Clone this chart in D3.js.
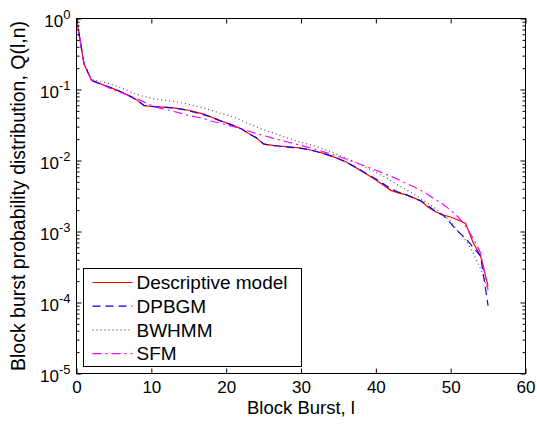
<!DOCTYPE html>
<html>
<meta charset="utf-8">
<style>
    body { margin: 0; background: #fff; }
    text { font-family: 'Liberation Sans', Arial, sans-serif; fill: #000; }
</style>
<body>
<svg id="chart" width="537" height="425"></svg>
<script src="https://d3js.org/d3.v7.min.js"></script>
<script>
// block burst length l
const burstLength = [0, 1, 2, 3, 4, 5, 6, 7, 8, 9, 10, 11, 12, 13, 14, 15, 16, 17, 18, 19,
    20, 21, 22, 23, 24, 25, 26, 27, 28, 29, 30, 31, 32, 33, 34, 35, 36, 37, 38, 39,
    40, 41, 42, 43, 44, 45, 46, 47, 48, 49, 50, 51, 52, 53, 54, 55];

const descriptive = [1, 0.23, 0.135, 0.122, 0.112, 0.102, 0.092, 0.082, 0.072, 0.059,
    0.058, 0.057, 0.056, 0.055, 0.053, 0.051, 0.048, 0.045, 0.041, 0.037,
    0.034, 0.031, 0.028, 0.024, 0.021, 0.017, 0.0165, 0.016, 0.0157, 0.0153,
    0.015, 0.0143, 0.0135, 0.0126, 0.0116, 0.0106, 0.0096, 0.0083, 0.0072, 0.0062,
    0.0053, 0.0045, 0.0038, 0.0035, 0.0033, 0.003, 0.0027, 0.0022, 0.0019, 0.0017,
    0.0016, 0.00145, 0.0013, 0.0007, 0.00045, 0.00017];

const dpbgm = [1, 0.23, 0.135, 0.122, 0.112, 0.102, 0.092, 0.082, 0.072, 0.06,
    0.058, 0.057, 0.056, 0.055, 0.053, 0.05, 0.047, 0.044, 0.041, 0.037,
    0.034, 0.031, 0.028, 0.024, 0.021, 0.0172, 0.0163, 0.016, 0.0156, 0.0152,
    0.0148, 0.0142, 0.0134, 0.0125, 0.0116, 0.0106, 0.0095, 0.0084, 0.0073, 0.0063,
    0.0055, 0.0047, 0.004, 0.0036, 0.0033, 0.003, 0.0027, 0.0023, 0.0019, 0.0017,
    0.0013, 0.001, 0.0008, 0.0006, 0.00045, 0.00009];

const bwhmm = [1, 0.23, 0.14, 0.13, 0.125, 0.115, 0.105, 0.095, 0.086, 0.08,
    0.075, 0.072, 0.07, 0.068, 0.065, 0.062, 0.058, 0.055, 0.051, 0.047,
    0.044, 0.041, 0.037, 0.033, 0.03, 0.027, 0.025, 0.023, 0.021, 0.0195,
    0.018, 0.017, 0.0158, 0.0145, 0.0133, 0.012, 0.0108, 0.0097, 0.0087, 0.0077,
    0.0068, 0.006, 0.0052, 0.0045, 0.0039, 0.0034, 0.0029, 0.0025, 0.0021, 0.0017,
    0.0014, 0.001, 0.00075, 0.0005, 0.0003, 0.00015];

const sfm = [1, 0.23, 0.135, 0.125, 0.11, 0.098, 0.09, 0.082, 0.075, 0.067,
    0.06, 0.055, 0.052, 0.049, 0.046, 0.043, 0.041, 0.039, 0.036, 0.034,
    0.032, 0.03, 0.028, 0.026, 0.024, 0.0225, 0.021, 0.0197, 0.0185, 0.0174,
    0.0163, 0.0153, 0.0143, 0.0133, 0.0123, 0.0114, 0.0105, 0.0096, 0.0088, 0.008,
    0.0073, 0.0066, 0.006, 0.0054, 0.0048, 0.0043, 0.0038, 0.0033, 0.0028, 0.0024,
    0.002, 0.0016, 0.0012, 0.0008, 0.0005, 0.00015];

const seriesNames = ["Descriptive model", "DPBGM", "BWHMM", "SFM"];
const xTicks = [0, 10, 20, 30, 40, 50, 60];
const yDecades = [1e-5, 1e-4, 1e-3, 1e-2, 1e-1, 1];

const series = [
    { name: seriesNames[0], values: descriptive, color: "#ff0000", dash: null, width: 1.2 },
    { name: seriesNames[1], values: dpbgm, color: "#0000ff", dash: "8,5", width: 1.2 },
    { name: seriesNames[2], values: bwhmm, color: "#555555", dash: "1,3", width: 1.2 },
    { name: seriesNames[3], values: sfm, color: "#ff00ff", dash: "9,4,2,4", width: 1.2 }
];

const chart = d3.select("#chart");
const plotLeft = 76.5, plotRight = 525.5, plotTop = 18.5, plotBottom = 373.5;

const x = d3.scaleLinear().domain([0, 60]).range([plotLeft, plotRight]);
const y = d3.scaleLog().domain([1e-5, 1]).range([plotBottom, plotTop]);

// minor ticks for log axis
const minor = [];
yDecades.slice(0, -1).forEach(d => {
    for (let m = 2; m <= 9; m++) minor.push(d * m);
});

// lines
const line = d3.line()
    .x((d, i) => x(burstLength[i]))
    .y(d => y(d));

chart.append("clipPath").attr("id", "clip")
    .append("rect").attr("x", plotLeft).attr("y", plotTop - 2)
    .attr("width", plotRight - plotLeft).attr("height", plotBottom - plotTop + 2);

chart.append("g")
    .attr("clip-path", "url(#clip)")
    .selectAll("path")
    .data(series)
    .enter()
    .append("path")
    .attr("d", d => line(d.values))
    .attr("fill", "none")
    .attr("stroke", d => d.color)
    .attr("stroke-width", d => d.width)
    .attr("stroke-dasharray", d => d.dash);

// axes
const xBottom = chart.append("g")
    .attr("transform", "translate(0," + plotBottom + ")")
    .call(d3.axisBottom(x).tickValues(xTicks).tickSizeInner(-5).tickSizeOuter(0).tickPadding(6));
xBottom.selectAll("text").attr("font-size", "17px").attr("dy", "0.8em");

chart.append("g")
    .attr("transform", "translate(0," + plotTop + ")")
    .call(d3.axisTop(x).tickValues(xTicks).tickSizeInner(-5).tickSizeOuter(0).tickFormat(""));

const yLeft = chart.append("g")
    .attr("transform", "translate(" + plotLeft + ",0)")
    .call(d3.axisLeft(y).tickValues(yDecades).tickSizeInner(-5).tickSizeOuter(0).tickPadding(6).tickFormat(() => ""));

yLeft.selectAll(".tick text")
    .attr("font-size", "17px")
    .attr("dy", "0.45em")
    .each(function (d) {
        const t = d3.select(this);
        t.append("tspan").text("10");
        t.append("tspan")
            .attr("dy", "-0.6em")
            .attr("font-size", "13px")
            .text(String(Math.round(Math.log10(d))));
    });

chart.append("g")
    .attr("transform", "translate(" + plotLeft + ",0)")
    .call(d3.axisLeft(y).tickValues(minor).tickSizeInner(-3).tickSizeOuter(0).tickFormat(""));

chart.append("g")
    .attr("transform", "translate(" + plotRight + ",0)")
    .call(d3.axisRight(y).tickValues(yDecades).tickSizeInner(-5).tickSizeOuter(0).tickFormat(""));

chart.append("g")
    .attr("transform", "translate(" + plotRight + ",0)")
    .call(d3.axisRight(y).tickValues(minor).tickSizeInner(-3).tickSizeOuter(0).tickFormat(""));

chart.selectAll(".domain").remove();

chart.append("rect")
    .attr("x", plotLeft).attr("y", plotTop)
    .attr("width", plotRight - plotLeft).attr("height", plotBottom - plotTop)
    .attr("fill", "none")
    .attr("stroke", "#000")
    .attr("stroke-width", 1);

// legend
const legendX = 83.5, legendY = 268.5, legendW = 218, legendH = 98, rowH = 23.7;
chart.append("rect")
    .attr("x", legendX).attr("y", legendY)
    .attr("width", legendW).attr("height", legendH)
    .attr("fill", "#fff").attr("stroke", "#000");

const legend = chart.append("g")
    .selectAll("g")
    .data(series)
    .enter()
    .append("g")
    .attr("transform", (d, i) => "translate(" + legendX + "," + (legendY + 14 + i * rowH) + ")");

legend.append("line")
    .attr("x1", 9).attr("x2", 49)
    .attr("stroke", d => d.color)
    .attr("stroke-width", d => d.width)
    .attr("stroke-dasharray", d => d.dash);

legend.append("text")
    .attr("x", 53)
    .attr("dy", "0.35em")
    .attr("font-size", "19px")
    .text(d => d.name);

// axis labels
chart.append("text")
    .attr("x", (plotLeft + plotRight) / 2)
    .attr("y", 414)
    .attr("text-anchor", "middle")
    .attr("font-size", "18.5px")
    .text("Block Burst, l");

chart.append("text")
    .attr("transform", "translate(" + 25 + "," + (plotTop + plotBottom) / 2 + ")rotate(-90)")
    .attr("text-anchor", "middle")
    .attr("font-size", "19.5px")
    .text("Block burst probability distribution, Q(l,n)");
</script>
</body>
</html>
